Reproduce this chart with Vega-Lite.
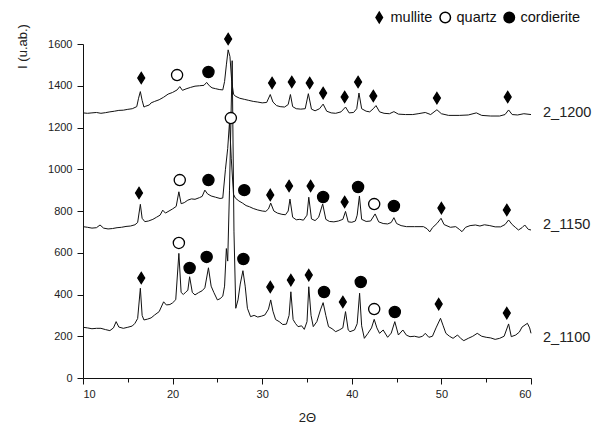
{
  "$schema": "https://vega.github.io/schema/vega-lite/v6.json",
  "width": 448,
  "height": 334,
  "autosize": {"type": "none"},
  "padding": {"left": 83, "top": 44, "right": 72, "bottom": 45},
  "background": "white",
  "config": {"view": {"stroke": null}, "font": "Liberation Sans"},
  "datasets": {
    "xrd": [
      {"s":"2_1200","x":10,"y":1270},{"s":"2_1200","x":10.5,"y":1268},{"s":"2_1200","x":11,"y":1270},{"s":"2_1200","x":11.5,"y":1272},{"s":"2_1200","x":12,"y":1268},{"s":"2_1200","x":12.5,"y":1271},{"s":"2_1200","x":13,"y":1275},{"s":"2_1200","x":13.5,"y":1278},{"s":"2_1200","x":14,"y":1282},{"s":"2_1200","x":14.5,"y":1283},{"s":"2_1200","x":15,"y":1287},{"s":"2_1200","x":15.5,"y":1290},{"s":"2_1200","x":16,"y":1300},{"s":"2_1200","x":16.2,"y":1340},{"s":"2_1200","x":16.4,"y":1372},{"s":"2_1200","x":16.6,"y":1330},{"s":"2_1200","x":16.8,"y":1298},{"s":"2_1200","x":17,"y":1302},{"s":"2_1200","x":17.4,"y":1308},{"s":"2_1200","x":17.6,"y":1318},{"s":"2_1200","x":18,"y":1325},{"s":"2_1200","x":18.5,"y":1333},{"s":"2_1200","x":19,"y":1345},{"s":"2_1200","x":19.5,"y":1360},{"s":"2_1200","x":20,"y":1368},{"s":"2_1200","x":20.5,"y":1380},{"s":"2_1200","x":20.8,"y":1396},{"s":"2_1200","x":21.1,"y":1378},{"s":"2_1200","x":21.5,"y":1385},{"s":"2_1200","x":22,"y":1392},{"s":"2_1200","x":22.5,"y":1398},{"s":"2_1200","x":23,"y":1400},{"s":"2_1200","x":23.5,"y":1402},{"s":"2_1200","x":23.8,"y":1416},{"s":"2_1200","x":24.1,"y":1400},{"s":"2_1200","x":24.4,"y":1390},{"s":"2_1200","x":24.8,"y":1386},{"s":"2_1200","x":25.2,"y":1382},{"s":"2_1200","x":25.6,"y":1380},{"s":"2_1200","x":25.8,"y":1420},{"s":"2_1200","x":26.0,"y":1500},{"s":"2_1200","x":26.2,"y":1572},{"s":"2_1200","x":26.4,"y":1540},{"s":"2_1200","x":26.6,"y":1420},{"s":"2_1200","x":26.8,"y":1360},{"s":"2_1200","x":27,"y":1350},{"s":"2_1200","x":27.5,"y":1340},{"s":"2_1200","x":28,"y":1335},{"s":"2_1200","x":28.5,"y":1330},{"s":"2_1200","x":29,"y":1325},{"s":"2_1200","x":29.5,"y":1322},{"s":"2_1200","x":30,"y":1318},{"s":"2_1200","x":30.5,"y":1320},{"s":"2_1200","x":30.9,"y":1358},{"s":"2_1200","x":31.2,"y":1322},{"s":"2_1200","x":31.6,"y":1305},{"s":"2_1200","x":32,"y":1300},{"s":"2_1200","x":32.5,"y":1298},{"s":"2_1200","x":32.9,"y":1310},{"s":"2_1200","x":33.15,"y":1358},{"s":"2_1200","x":33.4,"y":1300},{"s":"2_1200","x":33.8,"y":1290},{"s":"2_1200","x":34.3,"y":1288},{"s":"2_1200","x":34.8,"y":1290},{"s":"2_1200","x":35.15,"y":1362},{"s":"2_1200","x":35.5,"y":1288},{"s":"2_1200","x":35.9,"y":1280},{"s":"2_1200","x":36.4,"y":1290},{"s":"2_1200","x":36.8,"y":1312},{"s":"2_1200","x":37.2,"y":1278},{"s":"2_1200","x":37.7,"y":1270},{"s":"2_1200","x":38.2,"y":1268},{"s":"2_1200","x":38.8,"y":1275},{"s":"2_1200","x":39.3,"y":1298},{"s":"2_1200","x":39.7,"y":1270},{"s":"2_1200","x":40.2,"y":1272},{"s":"2_1200","x":40.55,"y":1290},{"s":"2_1200","x":40.8,"y":1365},{"s":"2_1200","x":41.1,"y":1290},{"s":"2_1200","x":41.6,"y":1278},{"s":"2_1200","x":42.0,"y":1275},{"s":"2_1200","x":42.4,"y":1290},{"s":"2_1200","x":42.7,"y":1305},{"s":"2_1200","x":43.1,"y":1275},{"s":"2_1200","x":43.6,"y":1268},{"s":"2_1200","x":44.2,"y":1266},{"s":"2_1200","x":44.7,"y":1276},{"s":"2_1200","x":45.2,"y":1264},{"s":"2_1200","x":46,"y":1262},{"s":"2_1200","x":46.8,"y":1262},{"s":"2_1200","x":47.4,"y":1266},{"s":"2_1200","x":48.2,"y":1272},{"s":"2_1200","x":48.8,"y":1262},{"s":"2_1200","x":49.5,"y":1285},{"s":"2_1200","x":50,"y":1266},{"s":"2_1200","x":50.8,"y":1258},{"s":"2_1200","x":52,"y":1258},{"s":"2_1200","x":53,"y":1260},{"s":"2_1200","x":53.9,"y":1270},{"s":"2_1200","x":54.5,"y":1258},{"s":"2_1200","x":55.5,"y":1255},{"s":"2_1200","x":56.5,"y":1255},{"s":"2_1200","x":57.1,"y":1262},{"s":"2_1200","x":57.5,"y":1284},{"s":"2_1200","x":57.9,"y":1262},{"s":"2_1200","x":58.5,"y":1260},{"s":"2_1200","x":59.2,"y":1266},{"s":"2_1200","x":60,"y":1262},

      {"s":"2_1150","x":10,"y":725},{"s":"2_1150","x":10.5,"y":722},{"s":"2_1150","x":11,"y":718},{"s":"2_1150","x":11.5,"y":720},{"s":"2_1150","x":11.9,"y":733},{"s":"2_1150","x":12.3,"y":718},{"s":"2_1150","x":12.8,"y":714},{"s":"2_1150","x":13.3,"y":716},{"s":"2_1150","x":13.8,"y":720},{"s":"2_1150","x":14.3,"y":722},{"s":"2_1150","x":14.8,"y":726},{"s":"2_1150","x":15.3,"y":728},{"s":"2_1150","x":15.8,"y":734},{"s":"2_1150","x":16.1,"y":745},{"s":"2_1150","x":16.4,"y":832},{"s":"2_1150","x":16.6,"y":765},{"s":"2_1150","x":16.9,"y":749},{"s":"2_1150","x":17.3,"y":752},{"s":"2_1150","x":17.8,"y":760},{"s":"2_1150","x":18.2,"y":770},{"s":"2_1150","x":18.6,"y":780},{"s":"2_1150","x":18.9,"y":804},{"s":"2_1150","x":19.2,"y":790},{"s":"2_1150","x":19.6,"y":800},{"s":"2_1150","x":20.0,"y":810},{"s":"2_1150","x":20.4,"y":822},{"s":"2_1150","x":20.7,"y":892},{"s":"2_1150","x":20.95,"y":835},{"s":"2_1150","x":21.3,"y":840},{"s":"2_1150","x":21.7,"y":852},{"s":"2_1150","x":22.1,"y":858},{"s":"2_1150","x":22.5,"y":856},{"s":"2_1150","x":23.0,"y":864},{"s":"2_1150","x":23.3,"y":870},{"s":"2_1150","x":23.6,"y":900},{"s":"2_1150","x":23.9,"y":882},{"s":"2_1150","x":24.3,"y":872},{"s":"2_1150","x":24.8,"y":866},{"s":"2_1150","x":25.3,"y":860},{"s":"2_1150","x":25.6,"y":862},{"s":"2_1150","x":25.9,"y":1000},{"s":"2_1150","x":26.15,"y":1100},{"s":"2_1150","x":26.35,"y":1225},{"s":"2_1150","x":26.55,"y":1050},{"s":"2_1150","x":26.8,"y":880},{"s":"2_1150","x":27.0,"y":862},{"s":"2_1150","x":27.4,"y":848},{"s":"2_1150","x":27.8,"y":838},{"s":"2_1150","x":28.2,"y":826},{"s":"2_1150","x":28.6,"y":820},{"s":"2_1150","x":29.0,"y":812},{"s":"2_1150","x":29.5,"y":805},{"s":"2_1150","x":30.0,"y":800},{"s":"2_1150","x":30.4,"y":798},{"s":"2_1150","x":30.7,"y":810},{"s":"2_1150","x":30.95,"y":838},{"s":"2_1150","x":31.3,"y":800},{"s":"2_1150","x":31.7,"y":790},{"s":"2_1150","x":32.2,"y":784},{"s":"2_1150","x":32.6,"y":782},{"s":"2_1150","x":32.9,"y":800},{"s":"2_1150","x":33.1,"y":857},{"s":"2_1150","x":33.4,"y":770},{"s":"2_1150","x":33.8,"y":758},{"s":"2_1150","x":34.2,"y":760},{"s":"2_1150","x":34.6,"y":756},{"s":"2_1150","x":35.0,"y":780},{"s":"2_1150","x":35.2,"y":866},{"s":"2_1150","x":35.5,"y":762},{"s":"2_1150","x":35.9,"y":754},{"s":"2_1150","x":36.3,"y":770},{"s":"2_1150","x":36.75,"y":834},{"s":"2_1150","x":37.1,"y":760},{"s":"2_1150","x":37.5,"y":750},{"s":"2_1150","x":38.0,"y":748},{"s":"2_1150","x":38.5,"y":752},{"s":"2_1150","x":39.0,"y":760},{"s":"2_1150","x":39.3,"y":798},{"s":"2_1150","x":39.6,"y":748},{"s":"2_1150","x":40.0,"y":746},{"s":"2_1150","x":40.4,"y":752},{"s":"2_1150","x":40.6,"y":780},{"s":"2_1150","x":40.85,"y":872},{"s":"2_1150","x":41.1,"y":760},{"s":"2_1150","x":41.6,"y":750},{"s":"2_1150","x":42.1,"y":752},{"s":"2_1150","x":42.6,"y":786},{"s":"2_1150","x":43.0,"y":748},{"s":"2_1150","x":43.5,"y":740},{"s":"2_1150","x":44.0,"y":738},{"s":"2_1150","x":44.4,"y":745},{"s":"2_1150","x":44.7,"y":768},{"s":"2_1150","x":45.0,"y":740},{"s":"2_1150","x":45.5,"y":730},{"s":"2_1150","x":46.1,"y":725},{"s":"2_1150","x":47.0,"y":725},{"s":"2_1150","x":48.0,"y":725},{"s":"2_1150","x":48.4,"y":715},{"s":"2_1150","x":48.7,"y":700},{"s":"2_1150","x":49.0,"y":720},{"s":"2_1150","x":49.5,"y":740},{"s":"2_1150","x":49.96,"y":765},{"s":"2_1150","x":50.3,"y":735},{"s":"2_1150","x":51.0,"y":722},{"s":"2_1150","x":51.6,"y":725},{"s":"2_1150","x":52.0,"y":712},{"s":"2_1150","x":52.3,"y":701},{"s":"2_1150","x":52.7,"y":722},{"s":"2_1150","x":53.2,"y":730},{"s":"2_1150","x":53.8,"y":733},{"s":"2_1150","x":54.3,"y":728},{"s":"2_1150","x":54.8,"y":734},{"s":"2_1150","x":55.4,"y":730},{"s":"2_1150","x":56.0,"y":724},{"s":"2_1150","x":56.6,"y":724},{"s":"2_1150","x":57.1,"y":735},{"s":"2_1150","x":57.5,"y":757},{"s":"2_1150","x":57.9,"y":735},{"s":"2_1150","x":58.3,"y":720},{"s":"2_1150","x":58.6,"y":709},{"s":"2_1150","x":59.0,"y":720},{"s":"2_1150","x":59.3,"y":733},{"s":"2_1150","x":59.7,"y":712},{"s":"2_1150","x":60.0,"y":709},

      {"s":"2_1100","x":10,"y":243},{"s":"2_1100","x":10.5,"y":240},{"s":"2_1100","x":11,"y":236},{"s":"2_1100","x":11.5,"y":238},{"s":"2_1100","x":12,"y":238},{"s":"2_1100","x":12.5,"y":232},{"s":"2_1100","x":13,"y":227},{"s":"2_1100","x":13.4,"y":240},{"s":"2_1100","x":13.7,"y":270},{"s":"2_1100","x":14.0,"y":244},{"s":"2_1100","x":14.5,"y":238},{"s":"2_1100","x":15.0,"y":243},{"s":"2_1100","x":15.5,"y":249},{"s":"2_1100","x":15.8,"y":262},{"s":"2_1100","x":16.1,"y":285},{"s":"2_1100","x":16.4,"y":430},{"s":"2_1100","x":16.6,"y":300},{"s":"2_1100","x":16.8,"y":278},{"s":"2_1100","x":17.2,"y":282},{"s":"2_1100","x":17.6,"y":288},{"s":"2_1100","x":18.0,"y":302},{"s":"2_1100","x":18.5,"y":318},{"s":"2_1100","x":19.0,"y":365},{"s":"2_1100","x":19.3,"y":350},{"s":"2_1100","x":19.7,"y":352},{"s":"2_1100","x":20.0,"y":360},{"s":"2_1100","x":20.35,"y":375},{"s":"2_1100","x":20.7,"y":597},{"s":"2_1100","x":20.95,"y":410},{"s":"2_1100","x":21.2,"y":400},{"s":"2_1100","x":21.5,"y":413},{"s":"2_1100","x":21.7,"y":420},{"s":"2_1100","x":21.9,"y":485},{"s":"2_1100","x":22.2,"y":410},{"s":"2_1100","x":22.5,"y":398},{"s":"2_1100","x":22.9,"y":409},{"s":"2_1100","x":23.3,"y":418},{"s":"2_1100","x":23.6,"y":432},{"s":"2_1100","x":24.0,"y":528},{"s":"2_1100","x":24.3,"y":440},{"s":"2_1100","x":24.6,"y":410},{"s":"2_1100","x":25.0,"y":374},{"s":"2_1100","x":25.3,"y":380},{"s":"2_1100","x":25.6,"y":392},{"s":"2_1100","x":25.8,"y":440},{"s":"2_1100","x":26.0,"y":620},{"s":"2_1100","x":26.15,"y":560},{"s":"2_1100","x":26.35,"y":900},{"s":"2_1100","x":26.65,"y":1520},{"s":"2_1100","x":26.85,"y":700},{"s":"2_1100","x":27.05,"y":334},{"s":"2_1100","x":27.3,"y":374},{"s":"2_1100","x":27.55,"y":450},{"s":"2_1100","x":27.85,"y":514},{"s":"2_1100","x":28.1,"y":440},{"s":"2_1100","x":28.35,"y":334},{"s":"2_1100","x":28.7,"y":294},{"s":"2_1100","x":29.1,"y":300},{"s":"2_1100","x":29.5,"y":292},{"s":"2_1100","x":29.9,"y":296},{"s":"2_1100","x":30.3,"y":302},{"s":"2_1100","x":30.7,"y":330},{"s":"2_1100","x":30.95,"y":374},{"s":"2_1100","x":31.2,"y":320},{"s":"2_1100","x":31.5,"y":280},{"s":"2_1100","x":31.9,"y":270},{"s":"2_1100","x":32.3,"y":256},{"s":"2_1100","x":32.7,"y":258},{"s":"2_1100","x":33.0,"y":300},{"s":"2_1100","x":33.2,"y":413},{"s":"2_1100","x":33.45,"y":280},{"s":"2_1100","x":33.7,"y":262},{"s":"2_1100","x":34.0,"y":246},{"s":"2_1100","x":34.4,"y":250},{"s":"2_1100","x":34.7,"y":233},{"s":"2_1100","x":35.0,"y":270},{"s":"2_1100","x":35.2,"y":437},{"s":"2_1100","x":35.45,"y":300},{"s":"2_1100","x":35.7,"y":246},{"s":"2_1100","x":36.1,"y":270},{"s":"2_1100","x":36.5,"y":326},{"s":"2_1100","x":36.8,"y":361},{"s":"2_1100","x":37.1,"y":300},{"s":"2_1100","x":37.4,"y":246},{"s":"2_1100","x":37.8,"y":236},{"s":"2_1100","x":38.2,"y":222},{"s":"2_1100","x":38.6,"y":230},{"s":"2_1100","x":39.0,"y":240},{"s":"2_1100","x":39.3,"y":318},{"s":"2_1100","x":39.6,"y":230},{"s":"2_1100","x":39.8,"y":222},{"s":"2_1100","x":40.3,"y":230},{"s":"2_1100","x":40.6,"y":260},{"s":"2_1100","x":40.87,"y":406},{"s":"2_1100","x":41.1,"y":250},{"s":"2_1100","x":41.4,"y":190},{"s":"2_1100","x":41.8,"y":214},{"s":"2_1100","x":42.2,"y":240},{"s":"2_1100","x":42.5,"y":281},{"s":"2_1100","x":42.8,"y":240},{"s":"2_1100","x":43.1,"y":214},{"s":"2_1100","x":43.5,"y":230},{"s":"2_1100","x":44.0,"y":195},{"s":"2_1100","x":44.4,"y":215},{"s":"2_1100","x":44.8,"y":270},{"s":"2_1100","x":45.2,"y":206},{"s":"2_1100","x":45.7,"y":230},{"s":"2_1100","x":46.1,"y":205},{"s":"2_1100","x":46.5,"y":198},{"s":"2_1100","x":47.0,"y":200},{"s":"2_1100","x":47.5,"y":195},{"s":"2_1100","x":47.9,"y":200},{"s":"2_1100","x":48.2,"y":214},{"s":"2_1100","x":48.6,"y":195},{"s":"2_1100","x":49.0,"y":200},{"s":"2_1100","x":49.4,"y":240},{"s":"2_1100","x":49.9,"y":286},{"s":"2_1100","x":50.2,"y":250},{"s":"2_1100","x":50.5,"y":214},{"s":"2_1100","x":50.9,"y":200},{"s":"2_1100","x":51.3,"y":190},{"s":"2_1100","x":51.8,"y":206},{"s":"2_1100","x":52.2,"y":188},{"s":"2_1100","x":52.5,"y":179},{"s":"2_1100","x":53.0,"y":190},{"s":"2_1100","x":53.5,"y":200},{"s":"2_1100","x":54.0,"y":214},{"s":"2_1100","x":54.5,"y":200},{"s":"2_1100","x":55.0,"y":195},{"s":"2_1100","x":55.5,"y":192},{"s":"2_1100","x":56.0,"y":185},{"s":"2_1100","x":56.5,"y":190},{"s":"2_1100","x":57.0,"y":200},{"s":"2_1100","x":57.5,"y":259},{"s":"2_1100","x":57.8,"y":198},{"s":"2_1100","x":58.3,"y":206},{"s":"2_1100","x":58.7,"y":220},{"s":"2_1100","x":59.0,"y":244},{"s":"2_1100","x":59.6,"y":262},{"s":"2_1100","x":59.85,"y":240},{"s":"2_1100","x":60,"y":214}
    ],
    "phases": [
      {"s":"2_1200","p":"mullite","x":16.5,"y":1437},{"s":"2_1200","p":"quartz","x":20.5,"y":1451},{"s":"2_1200","p":"cordierite","x":24,"y":1466},{"s":"2_1200","p":"mullite","x":26.2,"y":1624},{"s":"2_1200","p":"mullite","x":31.1,"y":1413},{"s":"2_1200","p":"mullite","x":33.3,"y":1418},{"s":"2_1200","p":"mullite","x":35.3,"y":1413},{"s":"2_1200","p":"mullite","x":36.8,"y":1365},{"s":"2_1200","p":"mullite","x":39.2,"y":1346},{"s":"2_1200","p":"mullite","x":40.7,"y":1418},{"s":"2_1200","p":"mullite","x":42.4,"y":1351},{"s":"2_1200","p":"mullite","x":49.5,"y":1341},{"s":"2_1200","p":"mullite","x":57.4,"y":1346},
      {"s":"2_1150","p":"mullite","x":16.25,"y":886},{"s":"2_1150","p":"quartz","x":20.8,"y":948},{"s":"2_1150","p":"cordierite","x":24,"y":948},{"s":"2_1150","p":"quartz","x":26.5,"y":1245},{"s":"2_1150","p":"cordierite","x":28,"y":900},{"s":"2_1150","p":"mullite","x":30.9,"y":877},{"s":"2_1150","p":"mullite","x":33,"y":920},{"s":"2_1150","p":"mullite","x":35.4,"y":920},{"s":"2_1150","p":"cordierite","x":36.8,"y":867},{"s":"2_1150","p":"mullite","x":39.2,"y":843},{"s":"2_1150","p":"cordierite","x":40.7,"y":915},{"s":"2_1150","p":"quartz","x":42.5,"y":833},{"s":"2_1150","p":"cordierite","x":44.7,"y":824},{"s":"2_1150","p":"mullite","x":50,"y":814},{"s":"2_1150","p":"mullite","x":57.3,"y":805},
      {"s":"2_1100","p":"mullite","x":16.5,"y":479},{"s":"2_1100","p":"quartz","x":20.7,"y":647},{"s":"2_1100","p":"cordierite","x":21.9,"y":527},{"s":"2_1100","p":"cordierite","x":23.8,"y":580},{"s":"2_1100","p":"cordierite","x":27.9,"y":570},{"s":"2_1100","p":"mullite","x":30.9,"y":436},{"s":"2_1100","p":"mullite","x":33.2,"y":469},{"s":"2_1100","p":"mullite","x":35.2,"y":493},{"s":"2_1100","p":"cordierite","x":36.9,"y":412},{"s":"2_1100","p":"mullite","x":39,"y":364},{"s":"2_1100","p":"cordierite","x":41,"y":460},{"s":"2_1100","p":"quartz","x":42.5,"y":330},{"s":"2_1100","p":"cordierite","x":44.8,"y":316},{"s":"2_1100","p":"mullite","x":49.7,"y":354},{"s":"2_1100","p":"mullite","x":57.3,"y":311}
    ],
    "labels": [
      {"s":"2_1200","x":60,"y":1270},{"s":"2_1150","x":60,"y":733},{"s":"2_1100","x":60,"y":190}
    ]
  },
  "layer": [
    {
      "data": {"name": "xrd"},
      "mark": {"type": "line", "color": "#111", "strokeWidth": 1},
      "encoding": {
        "x": {"field": "x", "type": "quantitative",
          "scale": {"domain": [10, 60], "nice": false, "zero": false},
          "axis": {"values": [10,15,20,25,30,35,40,45,50,55,60], "grid": false, "format": "d",
            "labelExpr": "datum.value % 10 === 0 ? datum.label : ''",
            "tickSize": {"condition": {"test": "datum.value % 10 === 0", "value": 6}, "value": 4},
            "domainColor": "#111", "tickColor": "#111", "labelColor": "#222",
            "labelFontSize": 11, "labelPadding": 4, "title": "2Θ", "titleFontSize": 13,
            "titleFontWeight": "normal", "titleColor": "#222", "titlePadding": 12}},
        "y": {"field": "y", "type": "quantitative",
          "scale": {"domain": [0, 1600], "nice": false},
          "axis": {"values": [0,100,200,300,400,500,600,700,800,900,1000,1100,1200,1300,1400,1500,1600], "grid": false, "format": "d",
            "labelExpr": "datum.value % 200 === 0 ? datum.label : ''",
            "tickSize": {"condition": {"test": "datum.value % 200 === 0", "value": 6}, "value": 4},
            "domainColor": "#111", "tickColor": "#111", "labelColor": "#222",
            "labelFontSize": 11, "labelPadding": 5, "title": "I (u.ab.)", "titleFontSize": 13,
            "titleFontWeight": "normal", "titleColor": "#222",
            "titleX": -61, "titleY": 2, "titleAlign": "center", "titleBaseline": "middle"}},
        "detail": {"field": "s"}
      }
    },
    {
      "data": {"name": "phases"},
      "mark": {"type": "point", "filled": true, "stroke": "black", "strokeWidth": 1.3, "opacity": 1, "size": 125},
      "encoding": {
        "x": {"field": "x", "type": "quantitative"},
        "y": {"field": "y", "type": "quantitative"},
        "shape": {"field": "p", "type": "nominal",
          "scale": {"domain": ["mullite", "quartz", "cordierite"], "range": ["M0,-1L0.62,0L0,1L-0.62,0Z", "circle", "circle"]},
          "legend": {"orient": "none", "legendX": 289, "legendY": -34, "direction": "horizontal", "title": null,
            "labelFontSize": 14.5, "labelColor": "#111", "symbolSize": 110,
            "columnPadding": 4, "labelOffset": 4,
            "encode": {"symbols": {"update": {"stroke": {"value": "black"}, "strokeWidth": {"value": 1.3}}}}}},
        "fill": {"field": "p", "type": "nominal",
          "scale": {"domain": ["mullite", "quartz", "cordierite"], "range": ["black", "white", "black"]},
          "legend": {"orient": "none", "legendX": 289, "legendY": -34, "direction": "horizontal", "title": null,
            "labelFontSize": 14.5, "labelColor": "#111", "symbolSize": 110,
            "columnPadding": 4, "labelOffset": 4,
            "encode": {"symbols": {"update": {"stroke": {"value": "black"}, "strokeWidth": {"value": 1.3}}}}}}
      }
    },
    {
      "data": {"name": "labels"},
      "mark": {"type": "text", "align": "left", "baseline": "middle", "dx": 12, "fontSize": 14.5, "color": "#222"},
      "encoding": {
        "x": {"field": "x", "type": "quantitative"},
        "y": {"field": "y", "type": "quantitative"},
        "text": {"field": "s", "type": "nominal"}
      }
    }
  ]
}
